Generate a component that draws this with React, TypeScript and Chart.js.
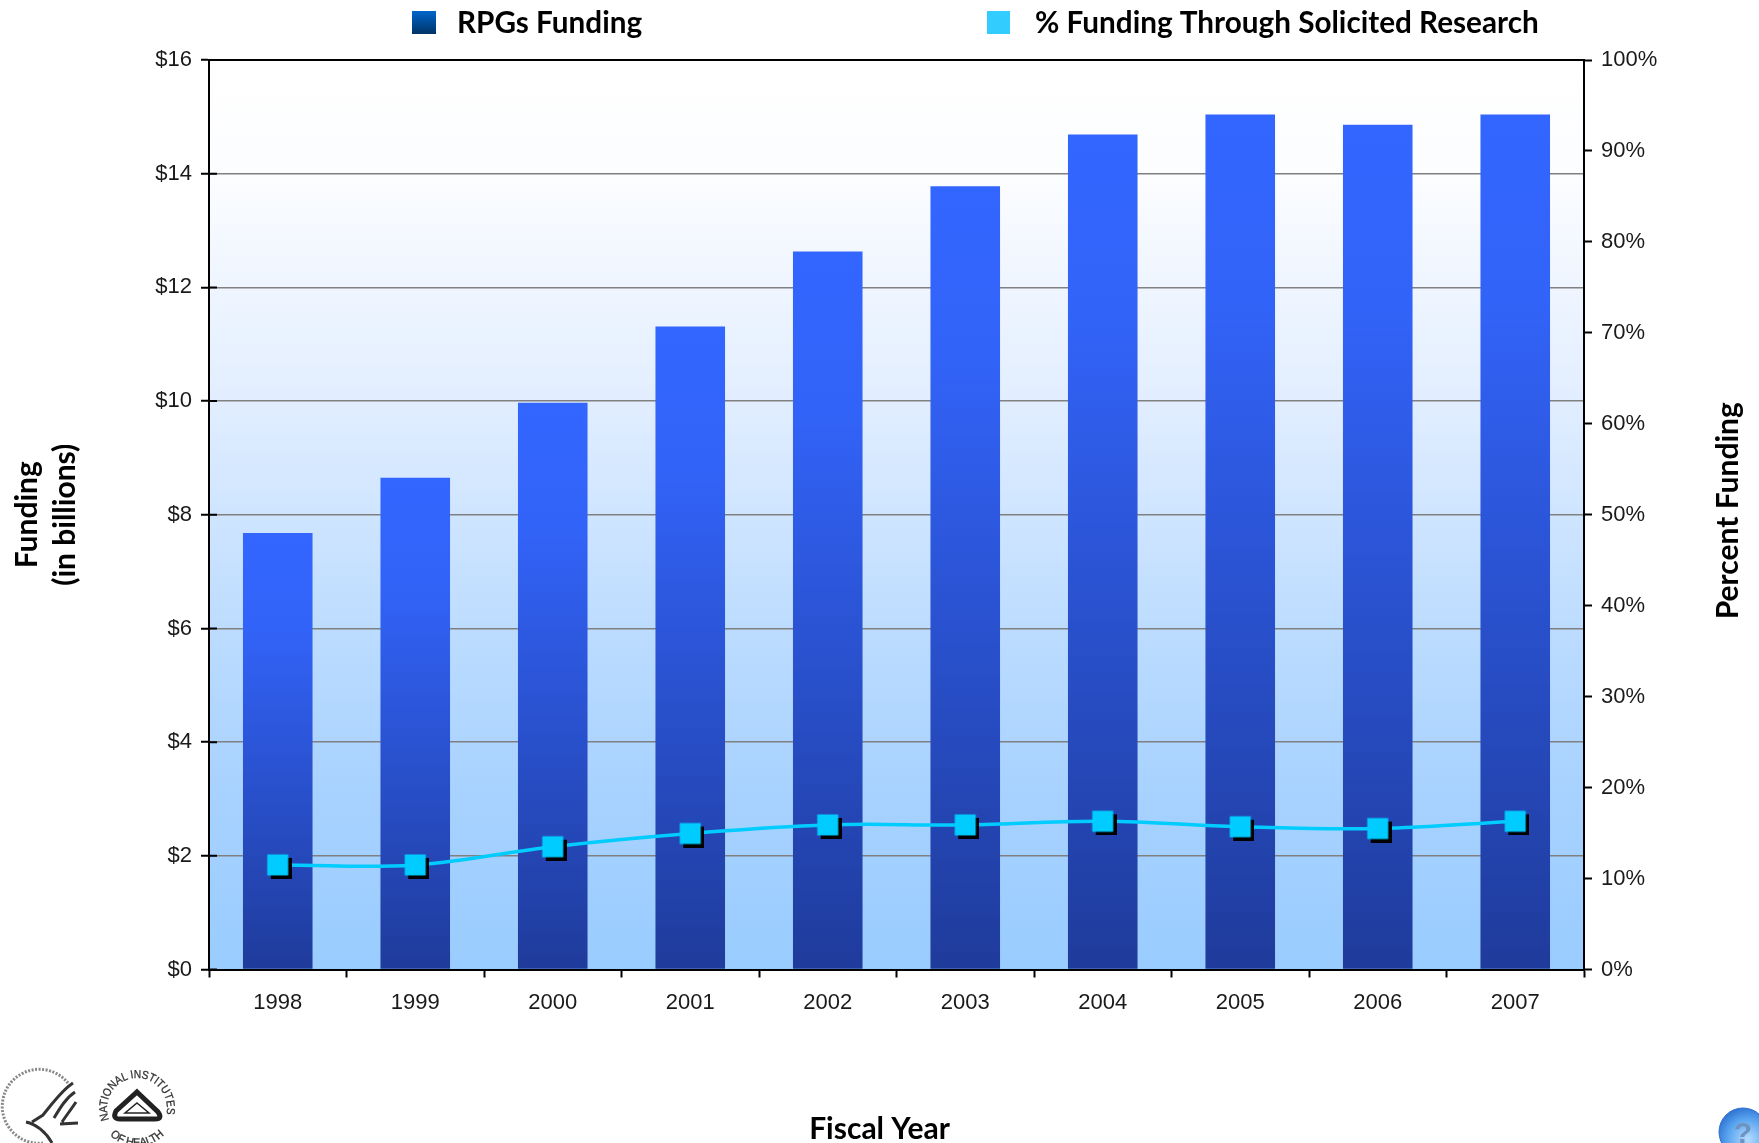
import React, { useEffect, useRef } from "react";
import { Chart, registerables } from "chart.js";

Chart.register(...registerables);

const fiscalYears = ["1998", "1999", "2000", "2001", "2002", "2003", "2004", "2005", "2006", "2007"];
const rpgFunding = [7.68, 8.65, 9.97, 11.31, 12.63, 13.78, 14.69, 15.04, 14.86, 15.04];
const percentSolicited = [11.5, 11.5, 13.5, 14.95, 15.9, 15.9, 16.3, 15.7, 15.5, 16.3];
const barLabel = "RPGs Funding";
const lineLabel = "% Funding Through Solicited Research";
const xTitle = "Fiscal Year";
const leftTitle = ["Funding", "(in billions)"];
const rightTitle = "Percent Funding";

const TITLE_FONT = "Lato";
const TICK_FONT = "'Liberation Sans'";

function makeMarker(): HTMLCanvasElement {
  const c = document.createElement("canvas");
  c.width = 28;
  c.height = 28;
  const g = c.getContext("2d")!;
  g.fillStyle = "#000";
  g.fillRect(7, 7, 21, 21);
  g.fillStyle = "#00ccff";
  g.fillRect(3.5, 3.5, 21, 21);
  return c;
}

const chromePlugin = {
  id: "chrome",
  beforeDraw(chart: any) {
    const { ctx, chartArea: a } = chart;
    const grad = ctx.createLinearGradient(0, a.top, 0, a.bottom);
    grad.addColorStop(0, "#ffffff");
    grad.addColorStop(0.12, "#fcfdff");
    grad.addColorStop(0.37, "#e2eeff");
    grad.addColorStop(0.625, "#bcdcff");
    grad.addColorStop(0.8, "#a8d2ff");
    grad.addColorStop(1, "#99ccff");
    ctx.save();
    ctx.fillStyle = grad;
    ctx.fillRect(a.left, a.top, a.right - a.left, a.bottom - a.top);
    ctx.restore();
  },
  afterDraw(chart: any) {
    const { ctx, chartArea: a } = chart;
    ctx.save();
    // top frame line
    ctx.strokeStyle = "#000";
    ctx.lineWidth = 2;
    ctx.beginPath();
    ctx.moveTo(a.left - 1, a.top);
    ctx.lineTo(a.right + 1, a.top);
    ctx.stroke();
    // inner half of the left axis' crossing tick marks
    const ys = chart.scales.y;
    ctx.beginPath();
    for (const t of ys.ticks) {
      const py = ys.getPixelForValue(t.value);
      ctx.moveTo(a.left, py);
      ctx.lineTo(a.left + 8, py);
    }
    ctx.stroke();
    // legend
    const d = chart.data.datasets;
    ctx.font = `bold 29.7px ${TITLE_FONT}`;
    ctx.textBaseline = "middle";
    ctx.textAlign = "left";
    const g1 = ctx.createLinearGradient(0, 11, 0, 34);
    g1.addColorStop(0, "#0066cc");
    g1.addColorStop(1, "#003366");
    ctx.fillStyle = g1;
    ctx.fillRect(412, 11, 24, 23);
    ctx.fillStyle = "#000";
    ctx.fillText(d[0].label, 457, 23);
    ctx.fillStyle = "#33ccff";
    ctx.fillRect(987, 11, 23, 23);
    ctx.fillStyle = "#000";
    ctx.fillText(d[1].label, 1035, 23);
    // right axis title, reading bottom to top
    ctx.font = `bold 30px ${TITLE_FONT}`;
    ctx.textAlign = "center";
    ctx.translate(1728, (a.top + a.bottom) / 2 - 4);
    ctx.rotate(-Math.PI / 2);
    ctx.fillText(rightTitle, 0, 0);
    ctx.restore();
  },
};

function barGradient(c: any) {
  const { chart, raw } = c;
  if (!chart.chartArea || raw == null) return "#3366ff";
  const y = chart.scales.y;
  const g = chart.ctx.createLinearGradient(0, y.getPixelForValue(raw), 0, y.getPixelForValue(0));
  g.addColorStop(0, "#3366ff");
  g.addColorStop(0.22, "#3263f8");
  g.addColorStop(1, "#1f3b9b");
  return g;
}

export default function App() {
  const ref = useRef<HTMLCanvasElement>(null);
  useEffect(() => {
    const chart = new Chart(ref.current!, {
      type: "bar",
      data: {
        labels: fiscalYears,
        datasets: [
          {
            type: "bar",
            label: barLabel,
            data: rpgFunding,
            yAxisID: "y",
            order: 2,
            backgroundColor: barGradient,
            barPercentage: 1,
            categoryPercentage: 0.506,
          },
          {
            type: "line",
            label: lineLabel,
            data: percentSolicited,
            yAxisID: "y1",
            order: 1,
            borderColor: "#00ccff",
            borderWidth: 3.5,
            tension: 0.4,
            pointStyle: makeMarker() as any,
            pointRadius: 14,
            pointHoverRadius: 14,
          },
        ],
      } as any,
      options: {
        responsive: false,
        animation: false,
        layout: { padding: { top: 60, left: 0, right: 0, bottom: 0 } },
        plugins: {
          legend: { display: false },
          tooltip: { enabled: false },
          title: {
            display: true,
            position: "bottom",
            text: xTitle,
            color: "#000",
            padding: 0,
            font: { family: TITLE_FONT, size: 30, weight: "bold", lineHeight: 0.9 },
          },
        },
        scales: {
          x: {
            offset: true,
            afterFit: (s: any) => { s.height = 146.5; },
            border: { color: "#000", width: 2 },
            grid: { offset: true, drawOnChartArea: false, drawTicks: true, tickLength: 8, color: "#000", tickWidth: 2 },
            ticks: { color: "#1a1a1a", padding: 12, maxRotation: 0, font: { family: TICK_FONT, size: 22 } },
          },
          y: {
            position: "left",
            min: 0,
            max: 16,
            afterFit: (s: any) => { s.width = 209; },
            border: { color: "#000", width: 2 },
            grid: { color: "#808080", lineWidth: 1.5, tickColor: "#000", tickWidth: 2, tickLength: 8 },
            ticks: {
              stepSize: 2,
              color: "#1a1a1a",
              padding: 9,
              font: { family: TICK_FONT, size: 22 },
              callback: (v: any) => `$${v}`,
            },
            title: {
              display: true,
              text: leftTitle,
              color: "#000",
              padding: { top: 8, bottom: 0 },
              font: { family: TITLE_FONT, size: 30, weight: "bold", lineHeight: 1.27 },
            },
          },
          y1: {
            position: "right",
            min: 0,
            max: 100,
            afterFit: (s: any) => { s.width = 175; },
            border: { color: "#000", width: 2 },
            grid: { drawOnChartArea: false, tickColor: "#000", tickWidth: 2, tickLength: 8 },
            ticks: {
              stepSize: 10,
              color: "#1a1a1a",
              padding: 9,
              font: { family: TICK_FONT, size: 22 },
              callback: (v: any) => `${v}%`,
            },
          },
        },
      } as any,
      plugins: [chromePlugin],
    });
    return () => chart.destroy();
  }, []);

  return (
    <div style={{ position: "absolute", left: 0, top: 0, width: 1759, height: 1143, overflow: "hidden", background: "#fff" }}>
      <canvas ref={ref} width={1759} height={1143} style={{ display: "block" }} />
      <svg width={1759} height={1143} style={{ position: "absolute", left: 0, top: 0, pointerEvents: "none" }}>
        <defs>
          <radialGradient id="help" cx="60%" cy="65%" r="70%">
            <stop offset="0%" stopColor="#b5dcff" />
            <stop offset="60%" stopColor="#5aa5f0" />
            <stop offset="100%" stopColor="#2a6fd0" />
          </radialGradient>
          <path id="nihTop" d="M 109.3 1119.5 A 30 30 0 1 1 164.7 1119.5" />
          <path id="nihBottom" d="M 110 1135 A 38 38 0 0 0 164 1135" />
        </defs>
        <g fill="none" stroke="#333">
          <path d="M 68 1083 A 37 37 0 1 0 44 1143" strokeDasharray="2 1.5" strokeWidth="3" stroke="#888" />
          <path d="M 73 1083 C 62 1090 52 1104 43 1115 L 32 1122 M 75 1092 C 66 1098 60 1108 54 1118 M 76 1102 C 72 1108 66 1116 62 1122 M 26 1122 C 36 1124 46 1132 52 1143 M 60 1124 L 78 1123" strokeWidth="3" />
        </g>
        <text fontFamily="'Liberation Sans'" fontSize="11.5" fill="#333" stroke="#333" strokeWidth="0.3">
          <textPath href="#nihTop" startOffset="0" textLength="112" lengthAdjust="spacingAndGlyphs">NATIONAL INSTITUTES</textPath>
        </text>
        <text fontFamily="'Liberation Sans'" fontSize="11.5" fill="#333" stroke="#333" strokeWidth="0.3">
          <textPath href="#nihBottom" startOffset="0" textLength="60" lengthAdjust="spacingAndGlyphs">OF HEALTH</textPath>
        </text>
        <path d="M 137 1092 L 158 1112 Q 163 1119 155 1119 L 120 1119 Q 112 1119 116 1111 Z" fill="none" stroke="#222" strokeWidth="5" />
        <path d="M 137 1103 L 149 1113 L 125 1113 Z" fill="#fff" stroke="#222" strokeWidth="1.5" />
        <circle cx="1743" cy="1132" r="24" fill="url(#help)" stroke="#2f6fd0" strokeWidth="1" />
        <text x="1743" y="1143" fontFamily="'Liberation Sans'" fontWeight="bold" fontSize="30" fill="#6f93c0" textAnchor="middle">?</text>
      </svg>
    </div>
  );
}
